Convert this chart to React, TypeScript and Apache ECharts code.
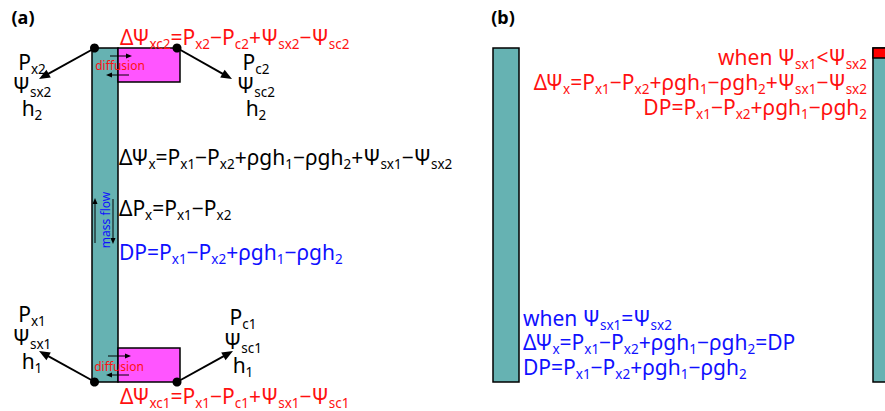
import React, { useEffect, useRef } from "react";
import * as echarts from "echarts";

const FONT = '"Noto Sans", "DejaVu Sans", sans-serif';
const RED = "#ff1010";
const BLUE = "#1010ff";
const BLACK = "#000000";
const TEAL = "#66b2b2";
const MAGENTA = "#ff55ff";

// ---- text content ----
const PANEL_LABELS = ["(a)", "(b)"];
const A_TOP_LEFT = ["P_{x2}", "Ψ_{sx2}", "h_{2}"];
const A_TOP_RIGHT = ["P_{c2}", "Ψ_{sc2}", "h_{2}"];
const A_BOT_LEFT = ["P_{x1}", "Ψ_{sx1}", "h_{1}"];
const A_BOT_RIGHT = ["P_{c1}", "Ψ_{sc1}", "h_{1}"];
const A_TOP_EQ = "ΔΨ_{xc2}=P_{x2}−P_{c2}+Ψ_{sx2}−Ψ_{sc2}";
const A_BOT_EQ = "ΔΨ_{xc1}=P_{x1}−P_{c1}+Ψ_{sx1}−Ψ_{sc1}";
const A_MID = [
  "ΔΨ_{x}=P_{x1}−P_{x2}+ρgh_{1}−ρgh_{2}+Ψ_{sx1}−Ψ_{sx2}",
  "ΔP_{x}=P_{x1}−P_{x2}",
  "DP=P_{x1}−P_{x2}+ρgh_{1}−ρgh_{2}",
];
const A_MID_COLORS = [BLACK, BLACK, BLUE];
const DIFFUSION = "diffusion";
const MASS_FLOW = "mass flow";
const B_RED = [
  "when Ψ_{sx1}<Ψ_{sx2}",
  "ΔΨ_{x}=P_{x1}−P_{x2}+ρgh_{1}−ρgh_{2}+Ψ_{sx1}−Ψ_{sx2}",
  "DP=P_{x1}−P_{x2}+ρgh_{1}−ρgh_{2}",
];
const B_BLUE = [
  "when Ψ_{sx1}=Ψ_{sx2}",
  "ΔΨ_{x}=P_{x1}−P_{x2}+ρgh_{1}−ρgh_{2}=DP",
  "DP=P_{x1}−P_{x2}+ρgh_{1}−ρgh_{2}",
];

// ---- layout ----
const SIZE = 21;
const SUB = 13.5;
const SUBSHIFT = 6.5;

function mk(s: string): string {
  let out = "";
  let buf = "";
  let i = 0;
  const flush = () => {
    if (buf) {
      out += `{b|${buf}}`;
      buf = "";
    }
  };
  while (i < s.length) {
    if (s[i] === "_" && s[i + 1] === "{") {
      flush();
      const j = s.indexOf("}", i);
      out += `{s|${s.slice(i + 2, j)}}`;
      i = j + 1;
    } else {
      buf += s[i];
      i++;
    }
  }
  flush();
  return out;
}

function eq(x: number, y: number, s: string, color: string, align: string, size = SIZE, sub = SUB) {
  return {
    type: "text",
    x,
    y,
    silent: true,
    style: {
      text: mk(s),
      fill: color,
      font: `${size}px ${FONT}`,
      align,
      textAlign: align,
      verticalAlign: "middle",
      textVerticalAlign: "middle",
      rich: {
        b: { fontSize: size, fontFamily: FONT, fill: color, color, lineHeight: 22 },
        s: {
          fontSize: sub,
          fontFamily: FONT,
          fill: color,
          color,
          lineHeight: 22,
          padding: [SUBSHIFT * 2, 0, 0, 0],
        },
      },
    },
  };
}

function plain(x: number, y: number, s: string, color: string, size: number, align = "center", weight = "normal", rotation = 0) {
  return {
    type: "text",
    x,
    y,
    rotation,
    silent: true,
    style: {
      text: s,
      fill: color,
      font: `${weight} ${size}px ${FONT}`,
      align,
      textAlign: align,
      verticalAlign: "middle",
      textVerticalAlign: "middle",
    },
  };
}

function arrow(x1: number, y1: number, x2: number, y2: number, lw: number, hl: number, hw: number, color = BLACK) {
  const dx = x2 - x1;
  const dy = y2 - y1;
  const L = Math.hypot(dx, dy);
  const ux = dx / L;
  const uy = dy / L;
  const bx = x2 - ux * hl;
  const by = y2 - uy * hl;
  const px = -uy;
  const py = ux;
  return [
    { type: "line", silent: true, shape: { x1, y1, x2: bx + ux, y2: by + uy }, style: { stroke: color, lineWidth: lw } },
    {
      type: "polygon",
      silent: true,
      shape: {
        points: [
          [x2, y2],
          [bx + (px * hw) / 2, by + (py * hw) / 2],
          [bx - (px * hw) / 2, by - (py * hw) / 2],
        ],
      },
      style: { fill: color },
    },
  ];
}

function rect(x: number, y: number, w: number, h: number, fill: string) {
  return {
    type: "rect",
    silent: true,
    shape: { x, y, width: w, height: h },
    style: { fill, stroke: BLACK, lineWidth: 1.5 },
  };
}

function dot(cx: number, cy: number) {
  return { type: "circle", silent: true, shape: { cx, cy, r: 4.5 }, style: { fill: BLACK } };
}

function stack(x: number, ys: number[], lines: string[], color: string, align: string) {
  return lines.map((l, i) => eq(x, ys[i], l, color, align));
}

function buildElements() {
  const els: any[] = [];
  // panel (a)
  els.push(plain(23, 17, PANEL_LABELS[0], BLACK, 18, "center", "bold"));
  els.push(rect(92, 48, 26, 334, TEAL));
  els.push(rect(118, 48, 62, 34, MAGENTA));
  els.push(rect(118, 348, 62, 34, MAGENTA));
  els.push(...arrow(95, 48, 39, 79, 2, 11, 9));
  els.push(...arrow(177, 48, 232, 79, 2, 11, 9));
  els.push(...arrow(95, 382, 39, 351, 2, 11, 9));
  els.push(...arrow(177, 382, 233, 351, 2, 11, 9));
  els.push(dot(94.5, 48), dot(177, 48), dot(94.5, 382), dot(177, 382));
  // diffusion arrows
  els.push(...arrow(110, 56, 132, 56, 1, 6, 5));
  els.push(...arrow(129, 75, 106, 75, 1, 6, 5));
  els.push(...arrow(108, 356, 131, 356, 1, 6, 5));
  els.push(...arrow(129, 375, 106, 375, 1, 6, 5));
  els.push(plain(120, 65, DIFFUSION, RED, 12));
  els.push(plain(119, 366, DIFFUSION, RED, 12));
  // mass flow
  els.push(...arrow(95, 243, 95, 198, 1, 6, 5));
  els.push(...arrow(113, 199, 113, 244, 1, 6, 5));
  els.push(plain(105, 220, MASS_FLOW, BLUE, 12, "center", "normal", Math.PI / 2));
  // labels
  els.push(...stack(32, [62, 85, 108], A_TOP_LEFT, BLACK, "center"));
  els.push(...stack(256, [62, 85, 108], A_TOP_RIGHT, BLACK, "center"));
  els.push(...stack(32, [314, 337, 361], A_BOT_LEFT, BLACK, "center"));
  els.push(...stack(243, [317, 341, 365], A_BOT_RIGHT, BLACK, "center"));
  els.push(eq(120, 37, A_TOP_EQ, RED, "left"));
  els.push(eq(120, 396, A_BOT_EQ, RED, "left"));
  A_MID.forEach((l, i) => els.push(eq(119, [157, 208, 252][i], l, A_MID_COLORS[i], "left")));

  // panel (b)
  els.push(plain(503, 17, PANEL_LABELS[1], BLACK, 18, "center", "bold"));
  els.push(rect(493, 48, 26, 334, TEAL));
  els.push(rect(873, 48, 20, 334, TEAL));
  els.push(rect(873, 48, 20, 10, "#ff0000"));
  els.push(...stack(867, [57, 82, 107], B_RED, RED, "right"));
  els.push(...stack(523, [318, 342, 367], B_BLUE, BLUE, "left"));
  return els;
}

export default function App() {
  const ref = useRef<HTMLDivElement>(null);
  useEffect(() => {
    if (!ref.current) return;
    const chart = echarts.init(ref.current, null, { renderer: "svg" });
    chart.setOption({
      animation: false,
      backgroundColor: "#ffffff",
      graphic: { elements: buildElements() },
    });
    return () => chart.dispose();
  }, []);
  return (
    <div
      ref={ref}
      style={{ position: "fixed", left: 0, top: 0, width: 885, height: 411, background: "#fff" }}
    />
  );
}
